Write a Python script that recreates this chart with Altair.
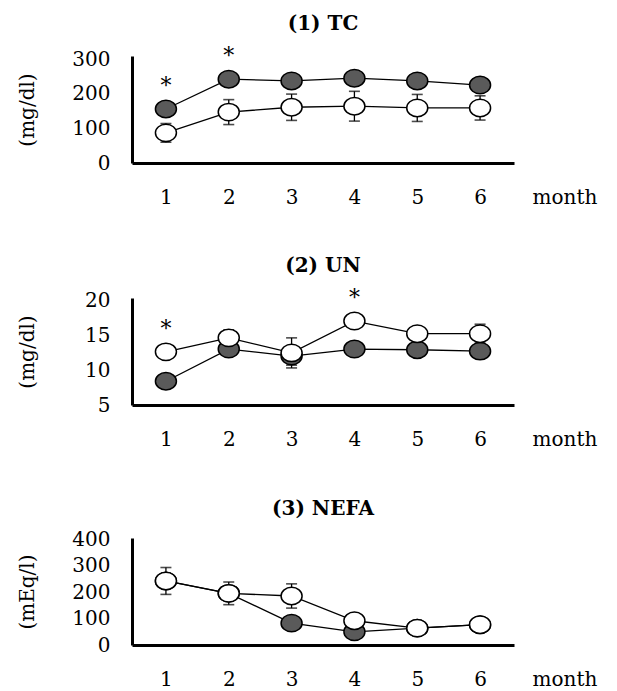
import altair as alt
import pandas as pd

months = [1, 2, 3, 4, 5, 6]

# (1) TC
tc_filled = [156, 242, 237, 245, 237, 225]
tc_filled_err = [0, 0, 0, 0, 0, 0]
tc_open = [87, 147, 161, 164, 159, 159]
tc_open_err = [27, 36, 38, 43, 39, 35]
tc_stars = [1, 2]

# (2) UN
un_filled = [8.4, 13.0, 12.0, 13.0, 12.9, 12.7]
un_filled_err = [0, 0, 1.3, 0, 0, 0]
un_open = [12.6, 14.6, 12.45, 17.0, 15.2, 15.2]
un_open_err = [0, 1.15, 2.15, 0, 0, 1.35]
un_stars = [1, 4]

# (3) NEFA
nefa_filled = [243, 196, 83, 50, 64, 77]
nefa_filled_err = [0, 0, 0, 0, 0, 0]
nefa_open = [243, 196, 186, 92, 64, 77]
nefa_open_err = [51, 43, 46, 0, 0, 0]
nefa_stars = []

titles = ["(1) TC", "(2) UN", "(3) NEFA"]
y_titles = ["(mg/dl)", "(mg/dl)", "(mEq/l)"]
y_ticks = [[0, 100, 200, 300], [5, 10, 15, 20], [0, 100, 200, 300, 400]]
y_domains = [[0, 309], [5, 20.3], [0, 406]]

FONT = "DejaVu Serif"
W, H = 382, 107
ELL = ("M 1 0 C 1 0.4584 0.5523 0.83 0 0.83 C -0.5523 0.83 -1 0.4584 -1 0 "
       "C -1 -0.4584 -0.5523 -0.83 0 -0.83 C 0.5523 -0.83 1 -0.4584 1 0 Z")


def panel(title, ytitle, ticks, domain, filled, filled_err, opened, opened_err, stars):
    rows = []
    for i, m in enumerate(months):
        rows.append(dict(month=m, group="filled", value=filled[i], err=filled_err[i]))
        rows.append(dict(month=m, group="open", value=opened[i], err=opened_err[i]))
    df = pd.DataFrame(rows)
    df["lo"] = df["value"] - df["err"]
    df["hi"] = df["value"] + df["err"]
    sdf = pd.DataFrame({
        "month": stars,
        "value": [max(filled[m - 1], opened[m - 1]) for m in stars],
    })

    xscale = alt.Scale(domain=[0.46, 6.54], nice=False, zero=False)
    yscale = alt.Scale(domain=domain, nice=False, zero=False)
    xaxis = alt.Axis(values=months, title="month", grid=False, ticks=False, tickSize=0,
                     domainColor="black", domainWidth=3, labelFont=FONT, labelFontSize=20,
                     labelColor="black", labelBaseline="middle", labelPadding=34,
                     titleFont=FONT, titleFontSize=20, titleFontWeight="normal",
                     titleColor="black", titleX=400, titleY=34, titleAlign="left",
                     titleBaseline="middle", titleAngle=0)
    yaxis = alt.Axis(values=ticks, title=ytitle, grid=False, ticks=False, tickSize=0,
                     domainColor="black", domainWidth=3, labelFont=FONT, labelFontSize=20,
                     labelColor="black", labelPadding=22, labelBaseline="middle",
                     titleFont=FONT, titleFontSize=20, titleFontWeight="normal",
                     titleColor="black", titleX=-105, titleY=H / 2, titleAngle=270,
                     titleAlign="center", titleBaseline="middle")

    def X(f="month"):
        return alt.X(f"{f}:Q", scale=xscale, axis=xaxis)

    def Y(f="value"):
        return alt.Y(f"{f}:Q", scale=yscale, axis=yaxis)

    base = alt.Chart(df)
    lines = base.mark_line(color="black", strokeWidth=1.3).encode(
        x=X(), y=Y(), detail="group:N")
    eb = base.transform_filter("datum.err > 0")
    rules = eb.mark_rule(color="black", strokeWidth=1.3).encode(
        x=X(), y=Y("lo"), y2="hi:Q")
    cap_lo = eb.mark_tick(orient="horizontal", size=11, thickness=1.6, color="black").encode(
        x=X(), y=Y("lo"))
    cap_hi = eb.mark_tick(orient="horizontal", size=11, thickness=1.6, color="black").encode(
        x=X(), y=Y("hi"))
    fpts = base.transform_filter("datum.group == 'filled'").mark_point(
        shape=ELL, size=441, filled=True, fill="#5a5a5a", stroke="black",
        strokeWidth=1.5, opacity=1).encode(x=X(), y=Y())
    opts = base.transform_filter("datum.group == 'open'").mark_point(
        shape=ELL, size=441, filled=True, fill="white", stroke="black",
        strokeWidth=1.5, opacity=1).encode(x=X(), y=Y())
    layers = [lines, rules, cap_lo, cap_hi, fpts, opts]
    if len(stars):
        st = alt.Chart(sdf).mark_text(text="*", font=FONT, fontSize=22, color="black",
                                       baseline="alphabetic", dy=-16).encode(x=X(), y=Y())
        layers.append(st)
    return alt.layer(*layers).properties(
        width=W, height=H,
        title=alt.TitleParams(title, font=FONT, fontSize=20, fontWeight="bold",
                              color="black", anchor="middle", frame="group",
                              baseline="middle", offset=1))


p1 = panel(titles[0], y_titles[0], y_ticks[0], y_domains[0], tc_filled, tc_filled_err,
           tc_open, tc_open_err, tc_stars)
p2 = panel(titles[1], y_titles[1], y_ticks[1], y_domains[1], un_filled, un_filled_err,
           un_open, un_open_err, un_stars)
p3 = panel(titles[2], y_titles[2], y_ticks[2], y_domains[2], nefa_filled, nefa_filled_err,
           nefa_open, nefa_open_err, nefa_stars)

chart = alt.vconcat(p1, p2, p3, spacing=49).properties(
    padding={"left": 9, "top": 6, "right": 5, "bottom": 0},
    background="white",
).configure_view(strokeWidth=0, stroke=None)

chart.save("out.html", embed_options={"renderer": "svg", "actions": False})
